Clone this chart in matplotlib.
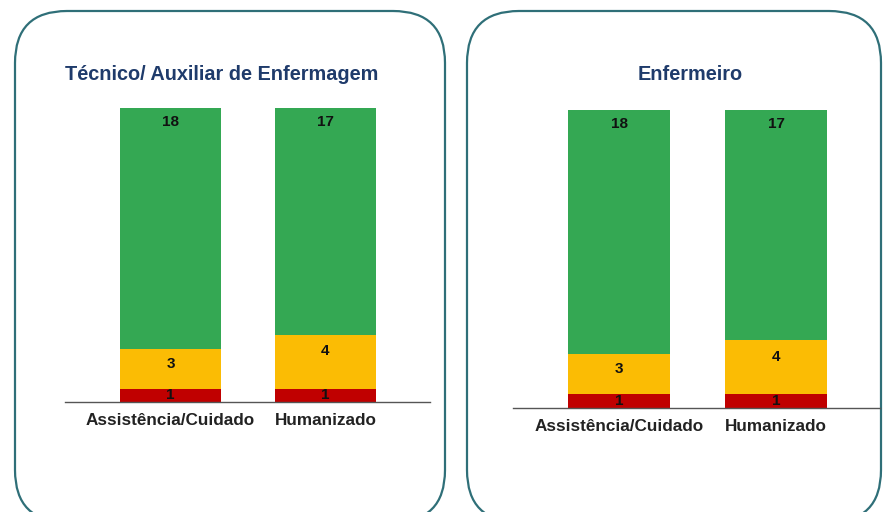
import matplotlib
matplotlib.use("Agg")
import matplotlib.pyplot as plt
from matplotlib.patches import FancyBboxPatch

plt.rcParams["font.family"] = ["Liberation Sans", "DejaVu Sans"]

categories = ["Assistência/Cuidado", "Humanizado"]
panel_titles = ["Técnico/ Auxiliar de Enfermagem", "Enfermeiro"]
# stacked values per panel: red (bottom), yellow, green (top)
red_values = [[1, 1], [1, 1]]
yellow_values = [[3, 4], [3, 4]]
green_values = [[18, 17], [18, 17]]

RED = "#C00000"
YELLOW = "#FBBC04"
GREEN = "#34A853"
TITLE_BLUE = "#1F3B6B"
BORDER = "#2F6F78"

W, H = 883, 512
fig = plt.figure(figsize=(W / 100, H / 100), dpi=100)


def fx(px):
    return px / W


def fy(py):
    return 1 - py / H


# background axes in pixel units for the rounded panel frames
bg = fig.add_axes([0, 0, 1, 1], zorder=-1)
bg.set_xlim(0, W)
bg.set_ylim(H, 0)
bg.axis("off")
frames = [(15, 11, 445, 522), (467, 11, 881, 522)]
for x0, y0, x1, y1 in frames:
    box = FancyBboxPatch(
        (x0, y0), x1 - x0, y1 - y0,
        boxstyle="round,pad=0,rounding_size=52",
        facecolor="white",
        edgecolor=BORDER,
        linewidth=1.6,
    )
    bg.add_patch(box)

# axes rectangles in pixels: left, top, right, baseline
axes_px = [(65, 108, 430, 402), (513, 110, 880, 408)]
title_pos = [(222, 75), (690, 74)]
xlims = [(-0.68, 1.674), (-0.675, 1.662)]

for i in range(2):
    l, t, r, b = axes_px[i]
    ax = fig.add_axes([fx(l), fy(b), fx(r - l), (b - t) / H])
    ax.patch.set_alpha(0)
    x = [0, 1]
    red = red_values[i]
    yel = yellow_values[i]
    grn = green_values[i]
    bot_g = [a + c for a, c in zip(red, yel)]
    ax.bar(x, red, width=0.65, color=RED)
    ax.bar(x, yel, width=0.65, bottom=red, color=YELLOW)
    ax.bar(x, grn, width=0.65, bottom=bot_g, color=GREEN)
    for j in range(2):
        ax.text(x[j], red[j] / 2, str(red[j]), ha="center", va="center",
                fontsize=11, fontweight="bold", color="#111111")
        ydy = red[j] + yel[j] / 2 + (0.8 if yel[j] == 4 else 0.35)
        ax.text(x[j], ydy, str(yel[j]), ha="center", va="center",
                fontsize=11, fontweight="bold", color="#111111")
        ax.text(x[j], bot_g[j] + grn[j] - 1.05, str(grn[j]), ha="center", va="center",
                fontsize=11, fontweight="bold", color="#111111")
    ax.set_ylim(0, 22)
    ax.set_xlim(*xlims[i])
    ax.set_xticks(x)
    ax.set_xticklabels(categories, fontsize=12.3, fontweight="bold", color="#222222")
    ax.tick_params(axis="x", length=0, pad=8)
    ax.set_yticks([])
    for s in ["top", "right", "left"]:
        ax.spines[s].set_visible(False)
    ax.spines["bottom"].set_color("#555555")
    ax.spines["bottom"].set_linewidth(1.0)

    tx, ty = title_pos[i]
    fig.text(fx(tx), fy(ty), panel_titles[i], ha="center", va="center",
             fontsize=14.3, fontweight="bold", color=TITLE_BLUE)

fig.savefig("out.png", dpi=100)
